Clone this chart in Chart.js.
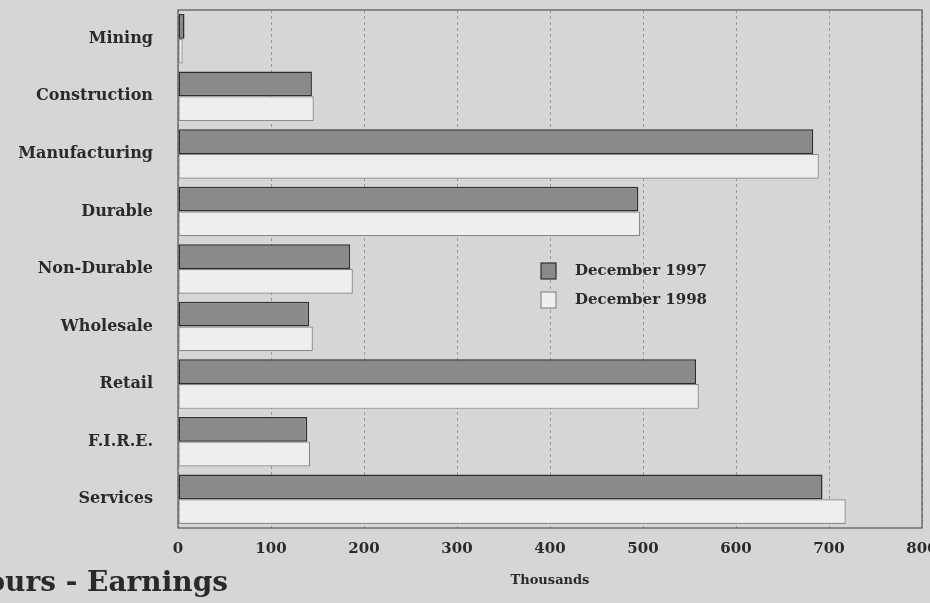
<!DOCTYPE html>
<html>
<head>
<meta charset="utf-8">
<script src="https://cdn.jsdelivr.net/npm/chart.js@4.4.1/dist/chart.umd.min.js"></script>
<style>
html,body{margin:0;padding:0;background:#d6d6d6;}
#wrap{width:930px;height:603px;}
</style>
</head>
<body>
<div id="wrap"><canvas id="c" width="930" height="603"></canvas></div>
<script>
const categories = ["Mining","Construction","Manufacturing","Durable","Non-Durable","Wholesale","Retail","F.I.R.E.","Services"];
const dec1997 = [7, 144, 683, 495, 185, 141, 557, 139, 693];
const dec1998 = [5, 146, 689, 497, 188, 145, 560, 142, 718];
const seriesLabels = ["December 1997","December 1998"];
const xTicks = [0,100,200,300,400,500,600,700,800];
const axisTitle = "Thousands";
const chartTitle = "Hours - Earnings";

const SERIF = "'DejaVu Serif', 'Liberation Serif', serif";

const bgPlugin = {
  id: 'bg',
  beforeDraw(chart){
    const ctx = chart.ctx;
    ctx.save();
    ctx.fillStyle = '#d6d6d6';
    ctx.fillRect(0,0,chart.width,chart.height);
    ctx.restore();
  },
  afterDatasetsDraw(chart){
    const ctx = chart.ctx, a = chart.chartArea;
    ctx.save();
    ctx.strokeStyle = '#555';
    ctx.lineWidth = 1.2;
    ctx.strokeRect(a.left, a.top, a.right - a.left, a.bottom - a.top);
    ctx.restore();
  },
  afterDraw(chart){
    const ctx = chart.ctx;
    ctx.save();
    // title, partially cut at left edge
    ctx.font = "bold 28px " + SERIF;
    ctx.fillStyle = '#2a2a2a';
    ctx.textAlign = 'right';
    ctx.textBaseline = 'alphabetic';
    ctx.fillText(chartTitle, 228, 591);
    // legend
    const ds = chart.data.datasets;
    ctx.font = "bold 15px " + SERIF;
    ctx.textAlign = 'left';
    ctx.textBaseline = 'middle';
    ds.forEach((d,i)=>{
      const y = 271 + i*29;
      ctx.fillStyle = d.backgroundColor;
      ctx.fillRect(541, y-8, 15, 16);
      ctx.strokeStyle = d.borderColor;
      ctx.lineWidth = 1.2;
      ctx.strokeRect(541, y-8, 15, 16);
      ctx.fillStyle = '#2a2a2a';
      ctx.fillText(d.label, 575, y);
    });
    ctx.restore();
  }
};

new Chart(document.getElementById('c'), {
  type: 'bar',
  data: {
    labels: categories,
    datasets: [
      {label: seriesLabels[0], data: dec1997, backgroundColor: '#8a8a8a', borderColor: '#2e2e2e', borderWidth: 1.5, categoryPercentage: 0.86, barPercentage: 1.0, borderSkipped: false},
      {label: seriesLabels[1], data: dec1998, backgroundColor: '#eeeeee', borderColor: '#8a8a8a', borderWidth: 1.2, categoryPercentage: 0.86, barPercentage: 1.0, borderSkipped: false}
    ]
  },
  options: {
    indexAxis: 'y',
    responsive: false,
    devicePixelRatio: 1,
    animation: false,
    layout: {padding: {top: 10, right: 8, left: 0, bottom: 11}},
    plugins: {legend: {display: false}, tooltip: {enabled: false}, title: {display: false}},
    scales: {
      x: {
        min: 0, max: 800,
        afterBuildTicks(scale){ scale.ticks = xTicks.map(v=>({value:v})); },
        afterFit(scale){ scale.height = 64; scale.paddingLeft = 0; scale.paddingRight = 0; },
        grid: {color: '#9a9a9a', lineWidth: 1, drawTicks: false},
        border: {display: false, dash: [3,3]},
        ticks: {padding: 12, color: '#2a2a2a', font: {family: SERIF, size: 15, weight: 'bold'}},
        title: {display: true, text: axisTitle, color: '#2a2a2a', font: {family: SERIF, size: 13, weight: 'bold'}, padding: {top: 4}}
      },
      y: {
        afterFit(scale){ scale.width = 178; scale.paddingTop = 0; scale.paddingBottom = 0; },
        grid: {display: false},
        border: {display: false},
        ticks: {padding: 17, color: '#2a2a2a', font: {family: SERIF, size: 16, weight: 'bold'}}
      }
    }
  },
  plugins: [bgPlugin]
});
</script>
</body>
</html>
